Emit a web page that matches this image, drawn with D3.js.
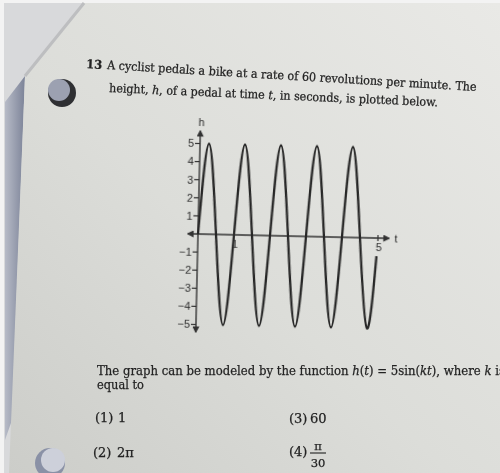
<!DOCTYPE html>
<html>
<head>
<meta charset="UTF-8">
<title>Cyclist pedal height</title>
<script src="https://cdnjs.cloudflare.com/ajax/libs/d3/7.8.5/d3.min.js"></script>
<style>
  body { margin: 0; padding: 0; background: #f3f3f3; }
  svg { display: block; }
  .q { font-family: "DejaVu Serif", serif; fill: #222; stroke: #222; stroke-width: 0.25px; }
  .ax text { font-family: "Liberation Sans", Arial, sans-serif; font-size: 11px; fill: #2e2e2e; }
</style>
</head>
<body>
<div id="chart"></div>
<script>
// points (quarter periods, last point where the line stops)
const tVals = [0, 0.25, 0.5, 0.75, 1, 1.25, 1.5, 1.75, 2, 2.25, 2.5, 2.75, 3, 3.25, 3.5, 3.75, 4, 4.25, 4.5, 4.75, 4.97];
const hVals = [0, 5, 0, -5, 0, 5, 0, -5, 0, 5, 0, -5, 0, 5, 0, -5, 0, 5, 0, -5, -1];
const yTicks = [5, 4, 3, 2, 1, -1, -2, -3, -4, -5];
const xTicks = [1, 5];

// question text, [string, italic]
const qNumber = "13";
const line1 = [["A cyclist pedals a bike at a rate of 60 revolutions per minute. The", 0]];
const line2 = [["height, ", 0], ["h", 1], [", of a pedal at time ", 0], ["t", 1], [", in seconds, is plotted below.", 0]];
const line3 = [["The graph can be modeled by the function ", 0], ["h", 1], ["(", 0], ["t", 1], [") = 5sin(", 0], ["kt", 1], ["), where ", 0], ["k", 1], [" is", 0]];
const line4 = [["equal to", 0]];
const choiceLabels = ["(1)", "(2)", "(3)", "(4)"];
const choiceValues = ["1", "2\u03c0", "60", ["\u03c0", "30"]];

const W = 500, H = 473;
const svg = d3.select("#chart").append("svg").attr("width", W).attr("height", H);
const defs = svg.append("defs");

const pageGrad = defs.append("linearGradient").attr("id", "page")
  .attr("x1", "1").attr("y1", "0").attr("x2", "0").attr("y2", "1");
pageGrad.append("stop").attr("offset", "0").attr("stop-color", "#e9e9e6");
pageGrad.append("stop").attr("offset", "0.55").attr("stop-color", "#dcddd9");
pageGrad.append("stop").attr("offset", "1").attr("stop-color", "#cccdc9");

const edgeGrad = defs.append("linearGradient").attr("id", "edge")
  .attr("x1", "0").attr("y1", "0").attr("x2", "1").attr("y2", "0");
edgeGrad.append("stop").attr("offset", "0").attr("stop-color", "#b7bbc7");
edgeGrad.append("stop").attr("offset", "1").attr("stop-color", "#7c8398");

defs.append("filter").attr("id", "soft")
  .append("feGaussianBlur").attr("stdDeviation", 0.45);

defs.append("marker").attr("id", "arrow")
  .attr("viewBox", "0 0 10 10").attr("refX", 8).attr("refY", 5)
  .attr("markerWidth", 7).attr("markerHeight", 7)
  .attr("markerUnits", "userSpaceOnUse")
  .attr("orient", "auto-start-reverse")
  .append("path").attr("d", "M0,0 L10,5 L0,10 Z").attr("fill", "#333");

// backdrop behind the page
svg.append("rect").attr("x", 4).attr("y", 3).attr("width", W).attr("height", H).attr("fill", "#d8d9db");
svg.append("path").attr("d", "M5,102 L25,76 L12,420 L5,440 Z").attr("fill", "url(#edge)");

// the page itself
svg.append("path").attr("d", "M84,3 L500,3 L500,473 L9,473 L25,76 Z").attr("fill", "url(#page)");
svg.append("path").attr("d", "M84,3 L25,76").attr("stroke", "#bdbec0").attr("stroke-width", 3);

// punched holes
svg.append("circle").attr("cx", 62).attr("cy", 93).attr("r", 14).attr("fill", "#2f3033");
svg.append("circle").attr("cx", 59).attr("cy", 90).attr("r", 11).attr("fill", "#9ca1b1");
svg.append("circle").attr("cx", 50).attr("cy", 463).attr("r", 15).attr("fill", "#8a91a6");
svg.append("circle").attr("cx", 53).attr("cy", 460).attr("r", 12).attr("fill", "#cdd0da");

const ink = svg.append("g").attr("filter", "url(#soft)");

function writeLine(segs, x, y, size, len, angle) {
  const t = ink.append("text").attr("class", "q")
    .attr("x", x).attr("y", y)
    .attr("font-size", size)
    .attr("transform", `rotate(${angle}, ${x}, ${y})`);
  segs.forEach(s => {
    t.append("tspan").attr("font-style", s[1] ? "italic" : "normal").text(s[0]);
  });
  if (len) t.attr("textLength", len).attr("lengthAdjust", "spacingAndGlyphs");
  return t;
}

writeLine([[qNumber, 0]], 86, 68, 12, 16, 3.4).attr("font-weight", "bold");
writeLine(line1, 107, 69, 12, 370, 3.4);
writeLine(line2, 109, 92, 12, 329, 2.5);
writeLine(line3, 97, 375, 13, 408, 0);
writeLine(line4, 97, 389, 13, 47, 0);

// answer choices
const choicePos = [[95, 422, 118], [93, 457, 117], [289, 423, 310], [289, 456, 310]];
choiceLabels.forEach((lab, i) => {
  const p = choicePos[i];
  writeLine([[lab, 0]], p[0], p[1], 13, 0, 0);
  const v = choiceValues[i];
  if (Array.isArray(v)) {
    const cx = p[2] + 8;
    ink.append("text").attr("class", "q").attr("x", cx).attr("y", p[1] - 6)
      .attr("font-size", 11.5).attr("text-anchor", "middle").text(v[0]);
    ink.append("line").attr("x1", cx - 8).attr("x2", cx + 8)
      .attr("y1", p[1] - 3).attr("y2", p[1] - 3)
      .attr("stroke", "#222").attr("stroke-width", 1.1);
    ink.append("text").attr("class", "q").attr("x", cx).attr("y", p[1] + 11)
      .attr("font-size", 11.5).attr("text-anchor", "middle").text(v[1]);
  } else {
    writeLine([[v, 0]], p[2], p[1], 13, 0, 0);
  }
});

// the plot, slightly tilted like the photo
const g = ink.append("g").attr("class", "ax")
  .attr("transform", "translate(198,234) rotate(1.3)");
const x = d3.scaleLinear().domain([0, 5]).range([0, 180]);
const y = d3.scaleLinear().domain([-5, 5]).range([90.5, -90.5]);

g.append("line").attr("x1", 0).attr("x2", 0).attr("y1", 98).attr("y2", -103)
  .attr("stroke", "#333").attr("stroke-width", 1.4)
  .attr("marker-start", "url(#arrow)").attr("marker-end", "url(#arrow)");
g.append("line").attr("x1", -10).attr("x2", 191).attr("y1", 0).attr("y2", 0)
  .attr("stroke", "#333").attr("stroke-width", 1.4)
  .attr("marker-start", "url(#arrow)").attr("marker-end", "url(#arrow)");

const line = d3.line().x((d, i) => x(tVals[i])).y(d => y(d)).curve(d3.curveNatural);
g.append("path").datum(hVals).attr("d", line)
  .attr("fill", "none").attr("stroke", "#262626").attr("stroke-width", 2.3);

g.selectAll(".ytick").data(yTicks).enter().append("line")
  .attr("x1", -5).attr("x2", 0)
  .attr("y1", d => y(d)).attr("y2", d => y(d))
  .attr("stroke", "#333").attr("stroke-width", 1.2);
g.selectAll(".ylab").data(yTicks).enter().append("text")
  .attr("x", -6).attr("y", d => y(d)).attr("dy", "0.35em")
  .attr("text-anchor", "end")
  .text(d => d < 0 ? "\u2212" + Math.abs(d) : d);

g.selectAll(".xtick").data(xTicks).enter().append("line")
  .attr("x1", d => x(d)).attr("x2", d => x(d)).attr("y1", -3).attr("y2", 3)
  .attr("stroke", "#333").attr("stroke-width", 1.2);
g.selectAll(".xlab").data(xTicks).enter().append("text")
  .attr("x", d => x(d) + 1).attr("y", 13).attr("text-anchor", "middle")
  .text(d => d);

g.append("text").attr("x", 1).attr("y", -108).attr("text-anchor", "middle").text("h");
g.append("text").attr("x", 198).attr("y", 4).attr("text-anchor", "middle").text("t");
</script>
</body>
</html>
